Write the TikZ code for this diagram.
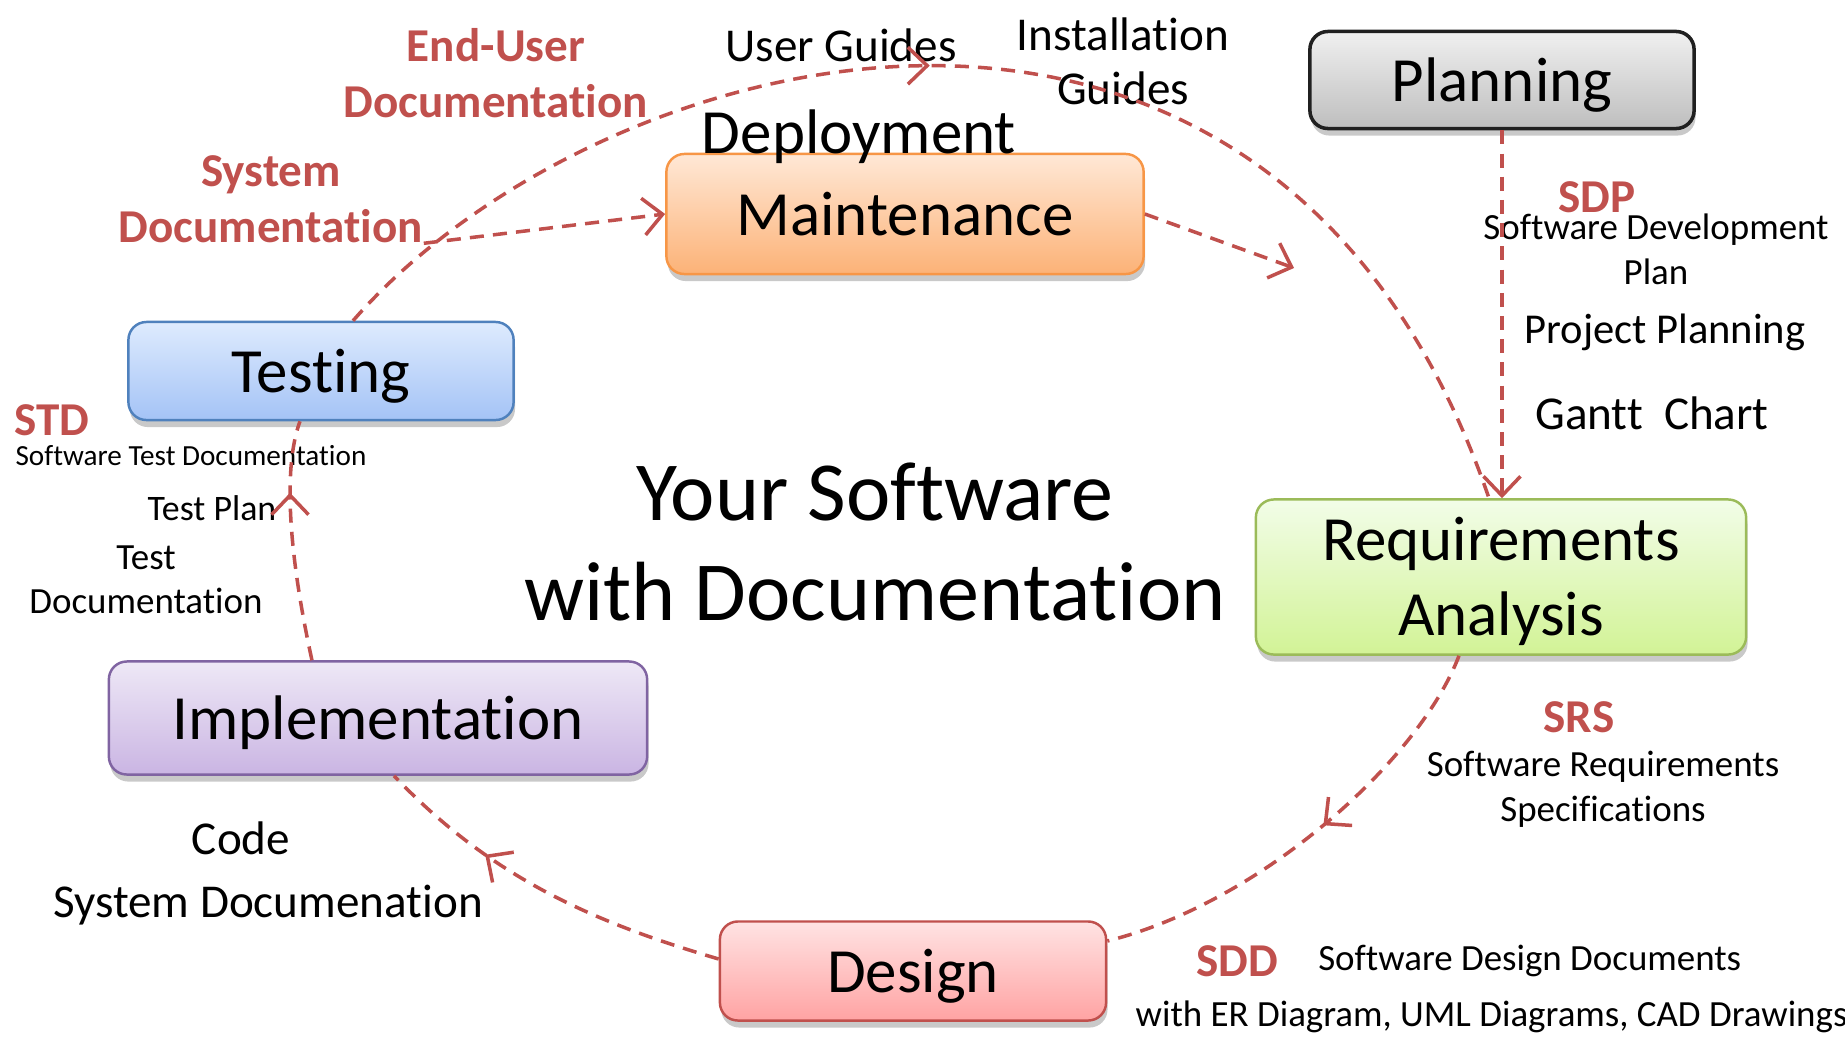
\documentclass[tikz,border=0pt]{standalone}
\usepackage{fontspec}
\setmainfont{Carlito}[Ligatures=NoCommon]
\usetikzlibrary{arrows.meta,calc,positioning,shadows,decorations.markings}

\definecolor{docred}{HTML}{C0504D}
\definecolor{plantop}{HTML}{F0F0F0}\definecolor{planbot}{HTML}{BEBEBE}\definecolor{planline}{HTML}{202020}
\definecolor{mainttop}{HTML}{FFE8D6}\definecolor{maintbot}{HTML}{FCB277}\definecolor{maintline}{HTML}{F79646}
\definecolor{testtop}{HTML}{DEEBFE}\definecolor{testbot}{HTML}{A4C3F6}\definecolor{testline}{HTML}{4F81BD}
\definecolor{impltop}{HTML}{EEE8F6}\definecolor{implbot}{HTML}{CAB5E3}\definecolor{implline}{HTML}{8064A2}
\definecolor{desigtop}{HTML}{FFE3E3}\definecolor{desigbot}{HTML}{FFA3A3}\definecolor{desigline}{HTML}{C0504D}
\definecolor{reqtop}{HTML}{F2FDE8}\definecolor{reqbot}{HTML}{D2F396}\definecolor{reqline}{HTML}{9BBB59}

\begin{document}
\begin{tikzpicture}[x=0.01cm,y=-0.01cm,
  phase/.style={rectangle,draw,rounded corners=0.18cm,line width=0.7pt,inner sep=0pt,align=center,
    font=\fontsize{17.9}{21.4}\selectfont,text height=15.9pt,text depth=3.6pt,
    drop shadow={shadow xshift=0.4pt,shadow yshift=-2pt,opacity=0.3,fill=black!70}},
  doc/.style={text=docred,inner sep=0pt,align=center,font=\bfseries\fontsize{13.4}{15.9}\selectfont},
  note/.style={inner sep=0pt,align=center,font=\fontsize{13.4}{15.4}\selectfont},
  small/.style={inner sep=0pt,align=center,font=\fontsize{10.5}{12.8}\selectfont},
  flow/.style={draw=docred,line width=1pt,dash pattern=on 4pt off 2.6pt},
  arrowend/.style={-{Straight Barb[length=5.5pt,width=10.5pt]}},
  midtip/.style={postaction={decorate},decoration={markings,
    mark=at position #1 with {\arrow{Straight Barb[length=5.5pt,width=10.5pt]}}}}]

        \useasboundingbox (0,0) rectangle (1845,1039);

        % phases
        \node (plan) [phase,minimum width=3.84cm,minimum height=0.97cm,line width=1pt,
          draw=planline,top color=plantop,bottom color=planbot] at (1502,80) {Planning};
        \node (maint) [phase,minimum width=4.77cm,minimum height=1.2cm,
          draw=maintline,top color=mainttop,bottom color=maintbot] at (905,214) {Maintenance};
        \node (test) [phase,minimum width=3.85cm,minimum height=0.98cm,
          draw=testline,top color=testtop,bottom color=testbot] at (321,371) {Testing};
        \node (impl) [phase,minimum width=5.38cm,minimum height=1.13cm,
          draw=implline,top color=impltop,bottom color=implbot] at (378,718) {Implementation};
        \node (design) [phase,minimum width=3.86cm,minimum height=0.99cm,
          draw=desigline,top color=desigtop,bottom color=desigbot] at (913,971) {Design};
        \node (req) [phase,text height=,text depth=,minimum width=4.9cm,minimum height=1.55cm,
          draw=reqline,top color=reqtop,bottom color=reqbot] at (1501,577) {\strut Requirements\\Analysis};

        \node (title) [inner sep=0pt,align=center,font=\fontsize{23.9}{28.7}\selectfont]
          at (875,542) {Your Software\\with Documentation};

        % documents
        \node (deploy) [note,font=\fontsize{17.9}{21}\selectfont] at (859,137) {Deployment};
        \node (enduser) [doc] at (496,73) {End-User\\Documentation};
        \node (sysdoc) [doc] at (271,199) {System\\Documentation};
        \node (guides) [note] at (841,45) {User Guides};
        \node (install) [note] at (1123,61) {Installation\\Guides};

        \node (sdp) [doc] at (1597,197) {SDP};
        \node (sdptext) [small] at (1656,249) {Software Development\\Plan};
        \node (projplan) [note,font=\fontsize{12.1}{14}\selectfont] at (1665,332) {Project Planning};
        \node (gantt) [note] at (1652,413) {Gantt~~Chart};

        \node (std) [doc] at (52,420) {STD};
        \node (stdtext) [small,font=\fontsize{8.3}{10}\selectfont] at (191,456) {Software Test Documentation};
        \node (testplan) [small,font=\fontsize{10.2}{12}\selectfont] at (212,508) {Test Plan};
        \node (testdoc) [small,font=\fontsize{10.5}{12.5}\selectfont] at (146,580) {Test\\Documentation};

        \node (srs) [doc] at (1579,717) {SRS};
        \node (srstext) [small] at (1603,789) {Software Requirements\\Specifications};

        \node (code) [note] at (241,838) {Code};
        \node (codedoc) [note] at (268,905) {System Documenation};

        \node (sdd) [doc] at (1237,961) {SDD};
        \node (sddtext) [small,right=0.39cm of sdd] {Software Design Documents};
        \node (sddmore) [small,anchor=west] at (1135,1017) {with ER Diagram, UML Diagrams, CAD Drawings};

        % cycle
        \draw [flow,arrowend] (plan.south) -- (plan.south |- req.north);
        \draw [flow,midtip=0.47] ([xshift=-0.42cm]req.south) .. controls (1419,761) and (1260,903) .. ([yshift=0.3cm]design.east);
        \draw [flow,midtip=0.68] ([yshift=0.12cm]design.west) .. controls (600,924) and (494,881) .. ([xshift=0.16cm]impl.south);
        \draw [flow,midtip=0.7] ([xshift=-0.66cm]impl.north) .. controls (290,560) and (282,470) .. ([xshift=-0.21cm]test.south);
        \draw [flow,midtip=0.46] ([xshift=0.32cm]test.north) .. controls (596,42) and (1270,-140) .. ([xshift=-0.12cm]req.north);

        \coordinate (maintout) at (1294,268);
        \draw [flow,arrowend] (sysdoc.south east) -- (maint.west);
        \draw [flow,arrowend] (maint.east) -- (maintout);
      \end{tikzpicture}
\end{document}
